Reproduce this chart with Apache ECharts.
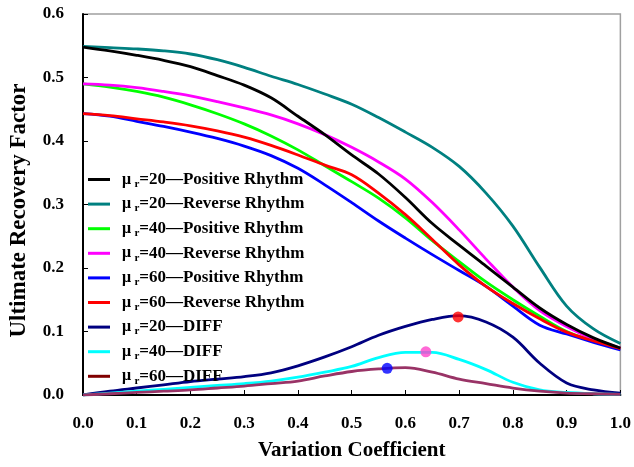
<!DOCTYPE html>
<html>
<head>
<meta charset="utf-8">
<script src="https://cdn.jsdelivr.net/npm/echarts@6/dist/echarts.min.js"></script>
<style>
  html, body { margin: 0; padding: 0; background: #fff; }
  #chart { width: 634px; height: 467px; }
</style>
</head>
<body>
<div id="chart"></div>
<script>
// Variation coefficient (x) sampled every 0.05
const variationCoef = [0.00, 0.05, 0.10, 0.15, 0.20, 0.25, 0.30, 0.35, 0.40, 0.45, 0.50,
                       0.55, 0.60, 0.65, 0.70, 0.75, 0.80, 0.85, 0.90, 0.95, 1.00];

// Ultimate recovery factor for each mobility ratio and rhythm
const posR20 = [0.548, 0.542, 0.535, 0.527, 0.517, 0.503, 0.488, 0.468, 0.439, 0.410, 0.378,
                0.348, 0.311, 0.270, 0.236, 0.203, 0.170, 0.137, 0.111, 0.090, 0.074];
const revR20 = [0.549, 0.547, 0.545, 0.542, 0.537, 0.528, 0.516, 0.502, 0.489, 0.474, 0.458,
                0.437, 0.414, 0.390, 0.360, 0.318, 0.266, 0.201, 0.140, 0.104, 0.081];
const posR40 = [0.490, 0.485, 0.478, 0.469, 0.457, 0.443, 0.427, 0.408, 0.386, 0.361, 0.336,
                0.310, 0.279, 0.243, 0.210, 0.178, 0.150, 0.124, 0.100, 0.085, 0.073];
const revR40 = [0.490, 0.488, 0.484, 0.478, 0.471, 0.462, 0.452, 0.441, 0.427, 0.410, 0.390,
                0.367, 0.340, 0.303, 0.260, 0.214, 0.170, 0.133, 0.108, 0.088, 0.074];
const posR60 = [0.443, 0.439, 0.431, 0.423, 0.414, 0.404, 0.392, 0.377, 0.357, 0.331, 0.303,
                0.274, 0.247, 0.221, 0.196, 0.171, 0.140, 0.110, 0.096, 0.083, 0.071];
const revR60 = [0.443, 0.440, 0.435, 0.430, 0.424, 0.416, 0.406, 0.393, 0.378, 0.362, 0.347,
                0.318, 0.284, 0.245, 0.205, 0.171, 0.144, 0.120, 0.099, 0.085, 0.073];

// Difference between reverse and positive rhythm
const diffR20 = [0.000, 0.006, 0.011, 0.016, 0.021, 0.025, 0.029, 0.035, 0.046, 0.060, 0.076,
                 0.094, 0.108, 0.119, 0.125, 0.115, 0.091, 0.050, 0.019, 0.008, 0.003];
const diffR40 = [0.000, 0.003, 0.006, 0.009, 0.012, 0.015, 0.018, 0.022, 0.028, 0.036, 0.045,
                 0.059, 0.067, 0.067, 0.056, 0.040, 0.020, 0.008, 0.004, 0.002, 0.001];
const diffR60 = [0.000, 0.002, 0.004, 0.006, 0.008, 0.011, 0.014, 0.018, 0.022, 0.030, 0.037,
                 0.041, 0.043, 0.036, 0.025, 0.018, 0.011, 0.006, 0.003, 0.002, 0.001];

// Peak of each difference curve
const peakX = [0.698, 0.638, 0.566];
const peakY = [0.123, 0.068, 0.042];
const peakColors = ['#ff0000', '#ff44cc', '#0000ff'];

// Axis ticks
const xTicks = [0, 1, 0.1];   // min, max, step
const yTicks = [0, 0.6, 0.1];

const seriesNames = [
  'μr=20—Positive Rhythm', 'μr=20—Reverse Rhythm',
  'μr=40—Positive Rhythm', 'μr=40—Reverse Rhythm',
  'μr=60—Positive Rhythm', 'μr=60—Reverse Rhythm',
  'μr=20—DIFF', 'μr=40—DIFF', 'μr=60—DIFF'
];
const seriesValues = [posR20, revR20, posR40, revR40, posR60, revR60, diffR20, diffR40, diffR60];
const lineColors = ['#000000', '#008080', '#00ff00', '#ff00ff', '#0000ff', '#ff0000',
                    '#000080', '#00ffff', '#993366'];
const legendColors = ['#000000', '#008080', '#00ff00', '#ff00ff', '#0000ff', '#ff0000',
                      '#000080', '#00ffff', '#800000'];

const FONT = '"Liberation Serif", "Times New Roman", serif';

const lineSeries = seriesNames.map((name, i) => ({
  name: name,
  type: 'line',
  data: variationCoef.map((x, j) => [x, seriesValues[i][j]]),
  smooth: 0.35,
  showSymbol: false,
  symbol: 'none',
  lineStyle: { color: lineColors[i], width: 2.8 },
  itemStyle: { color: lineColors[i] },
  z: i === 0 ? 4 : 3,
  silent: true
}));

const peakSeries = {
  type: 'scatter',
  data: peakX.map((x, i) => ({ value: [x, peakY[i]], itemStyle: { color: peakColors[i] } })),
  symbolSize: 11,
  z: 6,
  silent: true
};

const chart = echarts.init(document.getElementById('chart'), null, { renderer: 'canvas' });

chart.setOption({
  animation: false,
  backgroundColor: '#ffffff',
  grid: {
    left: 81, right: 7, top: 14, bottom: 72,
    show: true, borderColor: '#a0a0a0', borderWidth: 1.5, backgroundColor: 'transparent'
  },
  legend: {
    orient: 'vertical',
    left: 83,
    top: 166,
    icon: 'rect',
    itemWidth: 22,
    itemHeight: 3,
    itemGap: 6.1,
    data: seriesNames.map((n, i) => ({ name: n, itemStyle: { color: legendColors[i] } })),
    formatter: name => '{mu|μ} {sub|r}{txt|' + name.replace('μr', '') + '}',
    textStyle: {
      color: '#000',
      rich: {
        mu: { fontFamily: FONT, fontWeight: 'bold', fontSize: 16, lineHeight: 20,
              padding: [0, 0, 0, 7], color: '#000' },
        sub: { fontFamily: FONT, fontWeight: 'bold', fontSize: 11, lineHeight: 10,
               verticalAlign: 'bottom', color: '#000' },
        txt: { fontFamily: FONT, fontWeight: 'bold', fontSize: 17, lineHeight: 20, color: '#000' }
      }
    }
  },
  xAxis: {
    type: 'value',
    min: xTicks[0], max: xTicks[1], interval: xTicks[2],
    name: 'Variation Coefficient',
    nameLocation: 'middle',
    nameGap: 45,
    nameTextStyle: { fontFamily: FONT, fontWeight: 'bold', fontSize: 21, color: '#000' },
    axisLine: { show: true, onZero: false, lineStyle: { color: '#000', width: 2 } },
    axisTick: { show: true, inside: true, length: 5, lineStyle: { color: '#000', width: 1 } },
    axisLabel: {
      margin: 20, formatter: v => v.toFixed(1),
      fontFamily: FONT, fontWeight: 'bold', fontSize: 17, color: '#000'
    },
    splitLine: { show: false }
  },
  yAxis: {
    type: 'value',
    min: yTicks[0], max: yTicks[1], interval: yTicks[2],
    name: 'Ultimate Recovery Factor',
    nameLocation: 'middle',
    nameGap: 52,
    nameRotate: 90,
    nameTextStyle: { fontFamily: FONT, fontWeight: 'bold', fontSize: 23, color: '#000',
                     padding: [0, 12, 0, 0] },
    axisLine: { show: true, onZero: false, lineStyle: { color: '#000', width: 2 } },
    axisTick: { show: true, inside: true, length: 5, lineStyle: { color: '#000', width: 1 } },
    axisLabel: {
      margin: 19, formatter: v => v.toFixed(1),
      fontFamily: FONT, fontWeight: 'bold', fontSize: 17, color: '#000'
    },
    splitLine: { show: false }
  },
  series: lineSeries.concat([peakSeries])
});
</script>
</body>
</html>
